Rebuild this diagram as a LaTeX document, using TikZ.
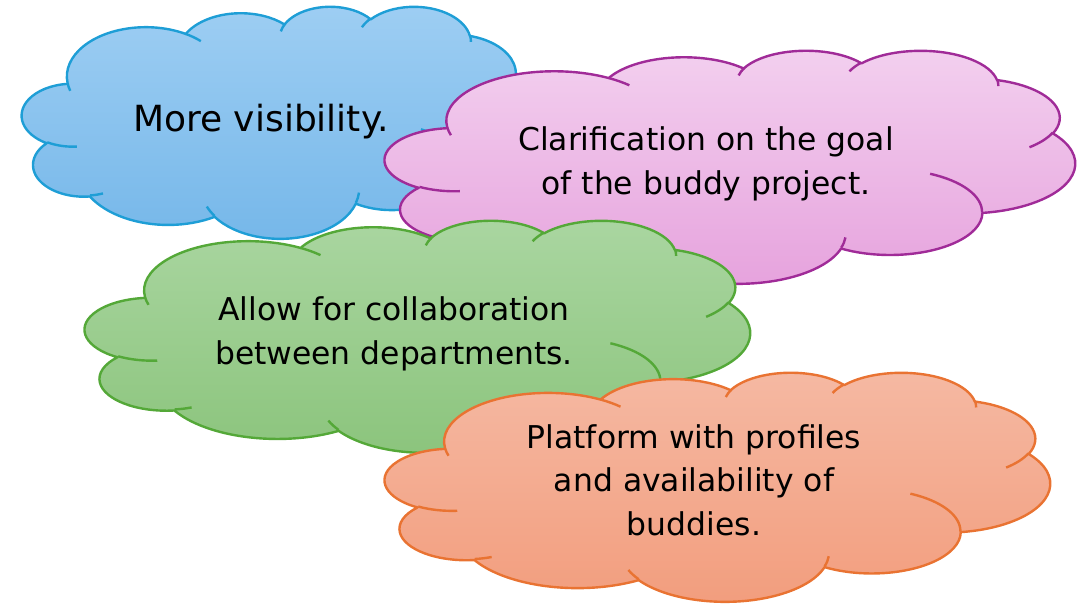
\documentclass[tikz,border=0pt]{standalone}
\usepackage{fontspec}
\setmainfont{DejaVu Sans}
\usepackage{tikz}

\definecolor{blueline}{RGB}{30,158,214}
\definecolor{bluetop}{RGB}{158,206,243}
\definecolor{bluebot}{RGB}{117,183,233}
\definecolor{pinkline}{RGB}{160,43,152}
\definecolor{pinktop}{RGB}{243,208,239}
\definecolor{pinkbot}{RGB}{230,162,221}
\definecolor{greenline}{RGB}{84,168,56}
\definecolor{greentop}{RGB}{170,214,161}
\definecolor{greenbot}{RGB}{139,196,124}
\definecolor{orangeline}{RGB}{233,115,50}
\definecolor{orangetop}{RGB}{245,185,163}
\definecolor{orangebot}{RGB}{242,157,125}

\tikzstyle{cloudline} = [line width=2.4pt, line join=round]
\tikzstyle{idea} = [font=\fontsize{31.4}{43.5}\selectfont, align=center, inner sep=0pt, text=black]
\tikzstyle{bigidea} = [font=\fontsize{36}{42}\selectfont, inner sep=0pt, text=black]
% one puff of the cloud: x radius, y radius, start and sweep (seen) angles
\tikzset{puff/.style n args={4}{x radius=#1, y radius=#2,
  start angle={atan2(#1*sin(#3),#2*cos(#3))},
  delta angle={mod(atan2(#1*sin(#3+#4),#2*cos(#3+#4))-atan2(#1*sin(#3),#2*cos(#3))+720,360)}}}

% cloud in a 432 x 432 frame: line, top fill, bottom fill
\newcommand{\cloudshape}[3]{%
  \draw[cloudline, draw=#1, top color=#2, bottom color=#3]
    (39.00,143.70)
    arc[puff={67.53}{91.90}{-190.4875}{123.7805}]
    arc[puff={53.33}{72.67}{-144.1024}{89.9452}]
    arc[puff={43.65}{59.45}{-145.8079}{99.7230}]
    arc[puff={48.57}{65.95}{-130.9861}{117.2417}]
    arc[puff={53.33}{72.73}{-78.7089}{109.0269}]
    arc[puff={67.75}{92.20}{-46.2673}{130.2690}]
    arc[puff={57.85}{78.67}{0.6250}{114.0333}]
    arc[puff={67.52}{92.15}{22.4516}{115.1726}]
    arc[puff={77.20}{105.43}{66.2426}{75.7110}]
    arc[puff={43.60}{59.18}{-274.9421}{146.7356}]
    arc[puff={43.45}{59.45}{-246.8285}{152.5189}]
    -- cycle;
  \draw[cloudline, draw=#1]
    (46.93,261.77) arc[puff={43.45}{59.45}{86.7420}{26.4295}]
    (69.28,348.99) arc[puff={43.60}{59.18}{73.6105}{11.4475}]
    (164.78,390.90) arc[puff={67.52}{92.15}{137.6242}{14.0811}]
    (288.27,347.51) arc[puff={67.52}{92.15}{6.4533}{15.9984}]
    (341.29,229.54) arc[puff={57.85}{78.67}{-70.2924}{70.9174}]
    (417.98,153.54) arc[puff={53.33}{72.73}{30.3180}{27.7515}]
    (383.24,54.26) arc[puff={48.57}{65.95}{-13.7443}{14.8589}]
    (290.78,39.52) arc[puff={48.57}{65.95}{-149.1815}{18.1954}]
    (221.41,47.20) arc[puff={43.65}{59.45}{-163.4943}{17.6864}]
    (140.00,51.92) arc[puff={67.53}{91.90}{-66.7070}{12.3194}]
    (41.27,157.89) arc[puff={67.53}{91.90}{157.6544}{11.8582}];
}

\begin{document}
\begin{tikzpicture}[x=1pt, y=-1pt]
\useasboundingbox (0,0) rectangle (1089,603);

% blue cloud
\begin{scope}[shift={(22,6)}, xscale=505/432, yscale=232/432]
  \cloudshape{blueline}{bluetop}{bluebot}
\end{scope}
\node (vis) [bigidea, anchor=base] at (261,131) {More visibility.};

% pink cloud
\begin{scope}[shift={(385,50)}, xscale=690/432, yscale=233/432]
  \cloudshape{pinkline}{pinktop}{pinkbot}
\end{scope}
\node (goal) [idea] at (706,164) {Clarification on the goal\\of the buddy project.};

% green cloud
\begin{scope}[shift={(85,220)}, xscale=665/432, yscale=232/432]
  \cloudshape{greenline}{greentop}{greenbot}
\end{scope}
\node (collab) [idea] at (394,334) {Allow for collaboration\\between departments.};

% orange cloud
\begin{scope}[shift={(385,372)}, xscale=665/432, yscale=229/432]
  \cloudshape{orangeline}{orangetop}{orangebot}
\end{scope}
\node (profiles) [idea] at (694,480) {Platform with profiles\\and availability of\\buddies.};

\end{tikzpicture}
\end{document}
